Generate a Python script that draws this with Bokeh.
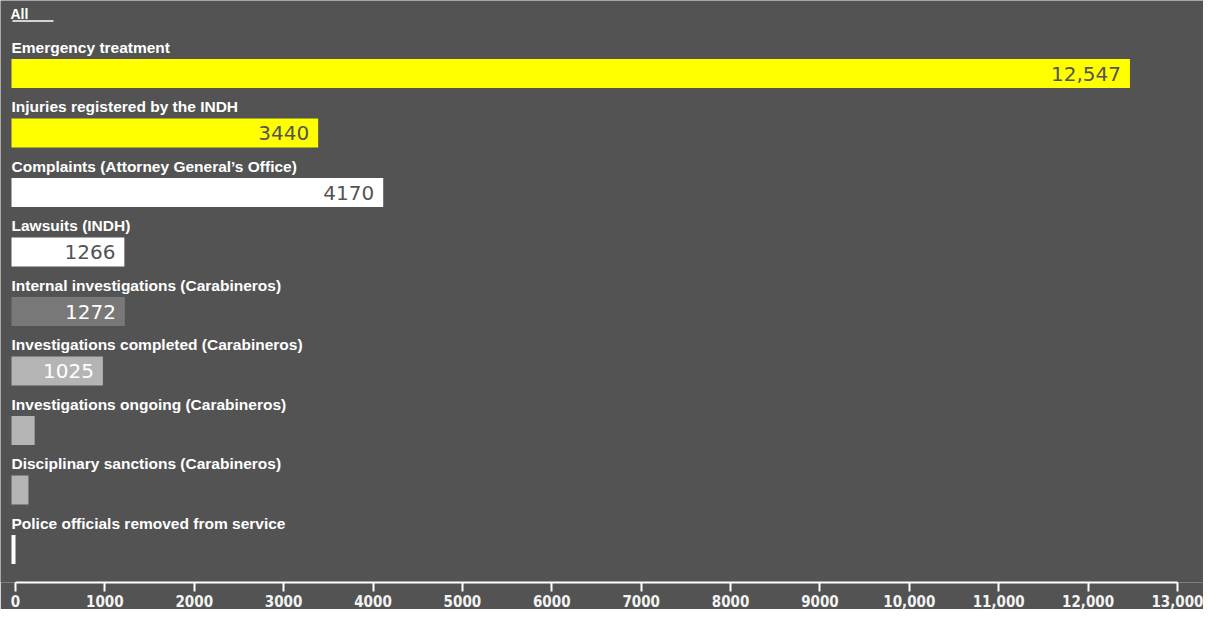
from bokeh.plotting import figure
from bokeh.models import Range1d, LinearAxis, FixedTicker, ColumnDataSource
from bokeh.core.properties import value
from bokeh.embed import file_html
from bokeh.resources import INLINE

# ---- data ----
categories = [
    "Emergency treatment",
    "Injuries registered by the INDH",
    "Complaints (Attorney General\u2019s Office)",
    "Lawsuits (INDH)",
    "Internal investigations (Carabineros)",
    "Investigations completed (Carabineros)",
    "Investigations ongoing (Carabineros)",
    "Disciplinary sanctions (Carabineros)",
    "Police officials removed from service",
]
values = [12547, 3440, 4170, 1266, 1272, 1025, 260, 190, 45]
value_labels = ["12,547", "3440", "4170", "1266", "1272", "1025", "", "", ""]
bar_colors = ["#ffff00", "#ffff00", "#ffffff", "#ffffff", "#787878",
              "#b4b4b4", "#b4b4b4", "#b4b4b4", "#ffffff"]
value_colors = ["#545454", "#545454", "#545454", "#545454", "#ffffff",
                "#ffffff", "#ffffff", "#ffffff", "#ffffff"]
tick_values = list(range(0, 13001, 1000))
tick_labels = ["0", "1000", "2000", "3000", "4000", "5000", "6000", "7000",
               "8000", "9000", "10,000", "11,000", "12,000", "13,000"]
filter_label = "All"

BG = "#535353"
W, H = 1203, 609
FH = 582  # approx frame height in px; y data units == px from top

ys = [73 + 59.5 * i for i in range(len(categories))]
label_ys = [y - 26.5 for y in ys]

p = figure(width=W, height=H, output_backend="svg", toolbar_location=None,
           x_range=Range1d(-123.4, 13372.2), y_range=Range1d(FH, 0),
           x_axis_location=None, y_axis_location=None, min_border=0,
           background_fill_color=BG, border_fill_color=BG,
           outline_line_color=None)
p.grid.visible = False

src = ColumnDataSource(dict(y=ys, ly=label_ys, v=values, cat=categories,
                            vl=value_labels, bc=bar_colors, vc=value_colors))

p.hbar(y="y", left=0, right="v", height=29, fill_color="bc",
       line_color=None, source=src)

p.text(x=0, y="ly", text="cat", source=src, text_color="#ffffff",
       text_font=value("Liberation Sans"), text_font_style="bold",
       text_font_size="15.5px", text_baseline="alphabetic", text_align="left")

p.text(x="v", y="y", text="vl", source=src, text_color="vc",
       text_font=value("DejaVu Sans"), text_font_size="20px",
       text_baseline="middle", text_align="right", x_offset=-9, y_offset=0)

# filter label "All" with underline
p.text(x=[0], y=[13], text=[filter_label], text_color="#ffffff",
       text_font=value("Liberation Sans"), text_font_style="bold",
       text_font_size="14px", text_baseline="alphabetic", text_align="left",
       x_offset=-1)
p.segment(x0=[11], y0=[20.5], x1=[471], y1=[20.5], line_color="#ffffff",
          line_width=1.5)

# bottom axis
p.extra_x_ranges = {"ax": Range1d(-167.8, 13291.6)}
ax = LinearAxis(x_range_name="ax", ticker=FixedTicker(ticks=tick_values),
                major_label_overrides={t: l for t, l in zip(tick_values, tick_labels)})
ax.bounds = (0, 13000)
ax.axis_line_color = "#ffffff"
ax.axis_line_width = 2
ax.major_tick_line_color = "#ffffff"
ax.major_tick_line_width = 2
ax.major_tick_in = 0
ax.major_tick_out = 9
ax.minor_tick_line_color = None
ax.major_label_text_color = "#f4f4f4"
ax.major_label_text_font = "'DejaVu Sans Condensed', 'Liberation Sans Narrow', 'Roboto Condensed', 'Liberation Sans', sans-serif"
ax.major_label_text_font_style = "bold"
ax.major_label_text_font_size = "15px"
ax.major_label_standoff = 3
p.add_layout(ax, "below")

open("out.html", "w").write(file_html(p, INLINE))
